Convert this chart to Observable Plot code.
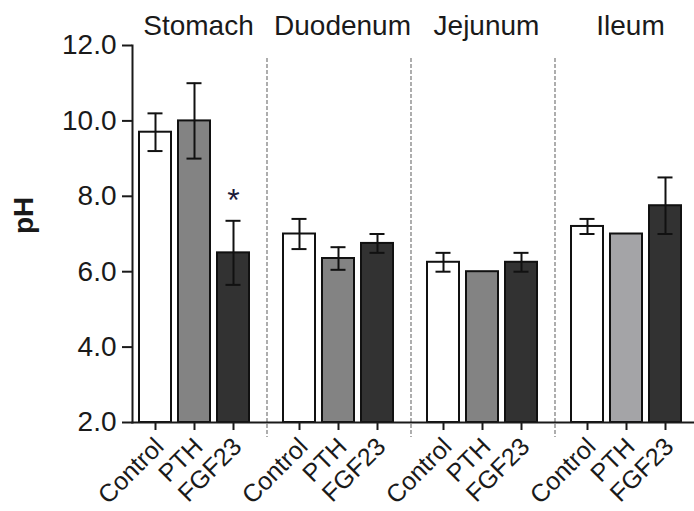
<!DOCTYPE html>
<html><head><meta charset="utf-8">
<script src="https://cdn.jsdelivr.net/npm/d3@7"></script>
<script src="https://cdn.jsdelivr.net/npm/@observablehq/plot@0.6"></script>
<style>body{margin:0;background:#fff}</style>
</head><body><div id="chart"></div>
<script>
// ---- data ----
const regions = ["Stomach", "Duodenum", "Jejunum", "Ileum"];
const treatments = ["Control", "PTH", "FGF23"];
// mean pH, ordered region by region, treatment by treatment
const meanPH = [9.7, 10.0, 6.5, 7.0, 6.35, 6.75, 6.25, 6.0, 6.25, 7.2, 7.0, 7.75];
// error (± half-range of the error bar)
const errPH = [0.5, 1.0, 0.85, 0.4, 0.3, 0.25, 0.25, 0, 0.25, 0.2, 0, 0.75];
const yTicks = [2, 4, 6, 8, 10, 12];
const significance = [{region: "Stomach", treatment: "FGF23", label: "*"}];

// ---- styles ----
const fills = {Control: "#ffffff", PTH: "#838383", FGF23: "#323232"};
const ileumPTHFill = "#a4a4a7";

const rows = regions.flatMap((region, r) =>
  treatments.map((treatment, t) => ({region, treatment, mean: meanPH[r * 3 + t], err: errPH[r * 3 + t]})));
const withErr = rows.filter(d => d.err > 0);
const stars = significance.map(s => {
  const row = rows.find(d => d.region === s.region && d.treatment === s.treatment);
  return {...s, top: row.mean + row.err};
});

const chart = Plot.plot({
  width: 694, height: 511,
  marginTop: 45, marginBottom: 89, marginLeft: 132, marginRight: 0,
  style: {fontFamily: "'Liberation Sans', Arial, sans-serif", color: "#1a1a1a", background: "#fff", overflow: "visible"},
  fx: {domain: regions, paddingInner: 0, paddingOuter: -0.062, align: 0, label: null},
  x: {domain: treatments, paddingInner: 0.175, paddingOuter: 0.4, align: 0.2, label: null},
  y: {domain: [yTicks[0], yTicks[yTicks.length - 1]], label: null},
  marks: [
    Plot.ruleX(regions.slice(1), {fx: d => d, x: () => treatments[0], dx: -32.5, stroke: "#9a9a9a", strokeWidth: 1.6, strokeDasharray: "4,2", insetTop: 13, insetBottom: -15}),
    Plot.barY(rows, {fx: "region", x: "treatment", y1: yTicks[0], y2: "mean",
      fill: d => d.region === "Ileum" && d.treatment === "PTH" ? ileumPTHFill : fills[d.treatment],
      stroke: "#111", strokeWidth: 2}),
    Plot.ruleX(withErr, {fx: "region", x: "treatment", y1: d => d.mean - d.err, y2: d => d.mean + d.err, stroke: "#111", strokeWidth: 2}),
    Plot.tickY(withErr, {fx: "region", x: "treatment", y: d => d.mean + d.err, insetLeft: 8.5, insetRight: 8.5, stroke: "#111", strokeWidth: 2}),
    Plot.tickY(withErr, {fx: "region", x: "treatment", y: d => d.mean - d.err, insetLeft: 8.5, insetRight: 8.5, stroke: "#111", strokeWidth: 2}),
    Plot.text(stars, {fx: "region", x: "treatment", y: "top", text: "label", dy: -20, fontSize: 32, fill: "#1c1c3a"}),
    Plot.axisY({ticks: yTicks, tickFormat: d3.format(".1f"), tickSize: 10, tickPadding: 6, fontSize: 28, strokeWidth: 2, label: null}),
    Plot.axisX({text: null, tickSize: 8, strokeWidth: 2, label: null}),
    Plot.axisX({tickRotate: -45, fontSize: 25, tickSize: 0, tickPadding: 20, dx: 4, label: null}),
    Plot.axisFx({anchor: "top", tickSize: 0, tickPadding: 11, dx: -6, fontSize: 28, label: null}),
    Plot.frame({anchor: "left", facet: "super", strokeWidth: 2}),
    Plot.frame({anchor: "bottom", facet: "super", strokeWidth: 2}),
    Plot.text(["pH"], {frameAnchor: "left", facet: "super", rotate: -90, dx: -108, fontSize: 28, fontWeight: "bold"})
  ]
});
document.getElementById("chart").append(chart);
</script>
</body></html>
